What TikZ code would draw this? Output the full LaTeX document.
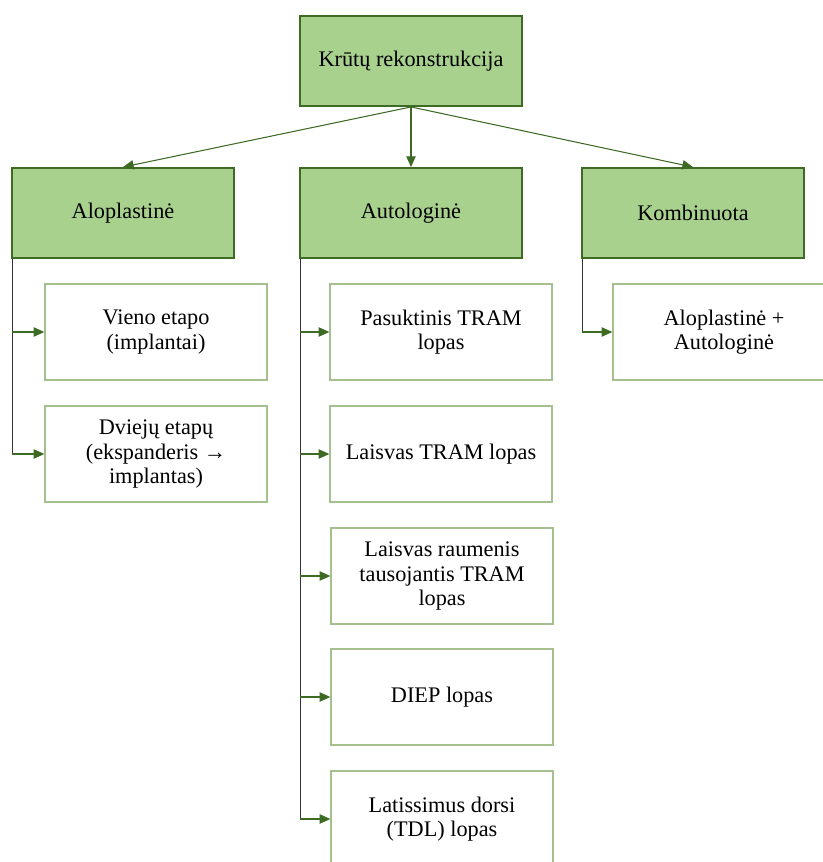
\documentclass[tikz,border=0pt]{standalone}
\usepackage{fontspec}
\setmainfont{Liberation Serif}
\usepackage{tikz}
\usetikzlibrary{arrows.meta}

\definecolor{lapas}{HTML}{A9D18E}
\definecolor{tamsi}{HTML}{3D6B24}
\definecolor{sviesi}{HTML}{A3C08E}
\tikzset{
  pagr/.style={draw=tamsi,line width=1.6pt,fill=lapas,minimum width=6.66cm,minimum height=2.7cm,font=\fontsize{19}{21}\selectfont},
  vaik/.style={draw=sviesi,line width=1.1pt,fill=white,minimum width=6.66cm,minimum height=2.88cm,align=center,font=\fontsize{19}{21}\selectfont},
  rod/.style={draw=tamsi,line width=0.9pt,-{Triangle[length=3.2mm,width=2.8mm]}},
  kam/.style={draw=black!80,line width=0.7pt}
}

\begin{document}
\begin{tikzpicture}[x=0.03cm,y=-0.03cm]
\path[use as bounding box,clip] (0,0) rectangle (823,862);
% virsus
\node[pagr] (kr) at (411,61) {Krūtų rekonstrukcija};
\node[pagr] (alo) at (123,213) {Aloplastinė};
\node[pagr] (auto) at (411,213) {Autologinė};
\node[pagr] (komb) at (693,213) {Kombinuota};
\draw[rod] (kr.south) -- (alo.north);
\draw[rod] (kr.south) -- (auto.north);
\draw[rod] (kr.south) -- (komb.north);
% aloplastine
\node[vaik] (a1) at (156,332) {Vieno etapo\\(implantai)};
\node[vaik] (a2) at (156,454) {Dviejų etapų\\(ekspanderis →\\implantas)};
\draw[kam] ([xshift=1]alo.south west) -- ([xshift=1]alo.south west |- a2.west);
\foreach \v in {a1,a2}
\draw[rod] ([xshift=1]alo.south west |- \v.west) -- (\v.west);
% autologine
\node[vaik] (b1) at (441,332) {Pasuktinis TRAM\\lopas};
\node[vaik] (b2) at (441,454) {Laisvas TRAM lopas};
\node[vaik] (b3) at (442,576) {Laisvas raumenis\\tausojantis TRAM\\lopas};
\node[vaik] (b4) at (442,697) {DIEP lopas};
\node[vaik] (b5) at (442,819) {Latissimus dorsi\\(TDL) lopas};
\draw[kam] ([xshift=1]auto.south west) -- ([xshift=1]auto.south west |- b5.west);
\foreach \v in {b1,b2,b3,b4,b5}
\draw[rod] ([xshift=1]auto.south west |- \v.west) -- (\v.west);
% kombinuota
\node[vaik] (k1) at (724,332) {Aloplastinė +\\Autologinė};
\draw[kam] ([xshift=1]komb.south west) -- ([xshift=1]komb.south west |- k1.west);
\draw[rod] ([xshift=1]komb.south west |- k1.west) -- (k1.west);
\end{tikzpicture}
\end{document}
